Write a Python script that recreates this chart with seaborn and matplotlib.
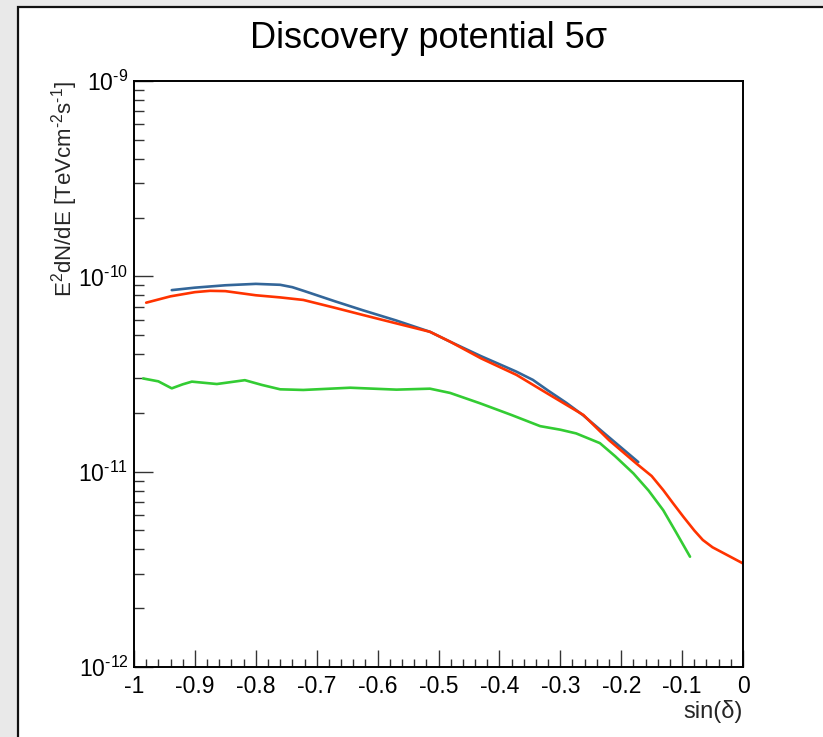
import numpy as np
import pandas as pd
import matplotlib
matplotlib.use("Agg")
import matplotlib.pyplot as plt
import matplotlib.ticker as mticker
from matplotlib.patches import Rectangle
import seaborn as sns

# ---- data ----
blue_x = [-0.938, -0.90, -0.85, -0.80, -0.76, -0.74, -0.72, -0.67, -0.624, -0.57, -0.514,
          -0.481, -0.43, -0.40, -0.372, -0.345, -0.32, -0.29, -0.263, -0.22, -0.172]
blue_y = [8.5e-11, 8.75e-11, 9.0e-11, 9.15e-11, 9.05e-11, 8.8e-11, 8.4e-11, 7.45e-11, 6.7e-11,
          5.95e-11, 5.2e-11, 4.63e-11, 3.9e-11, 3.55e-11, 3.25e-11, 2.95e-11, 2.6e-11, 2.25e-11,
          1.95e-11, 1.5e-11, 1.12e-11]

red_x = [-0.98, -0.94, -0.90, -0.875, -0.85, -0.80, -0.76, -0.722, -0.67, -0.624, -0.569,
         -0.514, -0.481, -0.43, -0.372, -0.32, -0.262, -0.22, -0.175, -0.15, -0.131, -0.115,
         -0.098, -0.08, -0.066, -0.05, -0.03, 0.0]
red_y = [7.33e-11, 7.9e-11, 8.3e-11, 8.43e-11, 8.4e-11, 8.0e-11, 7.8e-11, 7.57e-11, 6.9e-11,
         6.34e-11, 5.74e-11, 5.2e-11, 4.63e-11, 3.8e-11, 3.13e-11, 2.5e-11, 1.95e-11,
         1.45e-11, 1.10e-11, 9.5e-12, 8.05e-12, 6.9e-12, 5.88e-12, 5.0e-12, 4.47e-12,
         4.1e-12, 3.8e-12, 3.39e-12]

green_x = [-0.985, -0.96, -0.938, -0.92, -0.905, -0.864, -0.818, -0.79, -0.76, -0.722, -0.645,
           -0.569, -0.514, -0.481, -0.432, -0.38, -0.333, -0.30, -0.274, -0.235, -0.21, -0.18,
           -0.155, -0.131, -0.11, -0.087]
green_y = [3.0e-11, 2.9e-11, 2.67e-11, 2.8e-11, 2.89e-11, 2.81e-11, 2.94e-11, 2.78e-11, 2.64e-11,
           2.62e-11, 2.69e-11, 2.63e-11, 2.66e-11, 2.53e-11, 2.24e-11, 1.95e-11, 1.71e-11, 1.64e-11,
           1.57e-11, 1.40e-11, 1.2e-11, 9.8e-12, 8.0e-12, 6.35e-12, 4.9e-12, 3.67e-12]

series_names = ["blue", "red", "green"]
series_colors = ["#336699", "#ff3300", "#33cc33"]

x_ticks = [-1, -0.9, -0.8, -0.7, -0.6, -0.5, -0.4, -0.3, -0.2, -0.1, 0]
x_tick_labels = ["-1", "-0.9", "-0.8", "-0.7", "-0.6", "-0.5", "-0.4", "-0.3", "-0.2", "-0.1", "0"]
y_ticks = [1e-12, 1e-11, 1e-10, 1e-9]
y_tick_labels = [r"10$^{\text{-}12}$", r"10$^{\text{-}11}$", r"10$^{\text{-}10}$", r"10$^{\text{-}9}$"]

title = "Discovery potential 5σ"
x_label = "sin(δ)"
y_label = r"E$^{2}$dN/dE [TeVcm$^{\text{-}2}$s$^{\text{-}1}$]"

df = pd.concat([
    pd.DataFrame({"x": blue_x, "y": blue_y, "s": "blue"}),
    pd.DataFrame({"x": red_x, "y": red_y, "s": "red"}),
    pd.DataFrame({"x": green_x, "y": green_y, "s": "green"}),
], ignore_index=True)

# ---- style ----
sns.set_theme(style="white")
plt.rcParams["font.family"] = ["Liberation Sans", "DejaVu Sans"]
plt.rcParams["mathtext.fontset"] = "custom"
plt.rcParams["mathtext.rm"] = "Liberation Sans"
plt.rcParams["mathtext.it"] = "Liberation Sans"
plt.rcParams["mathtext.default"] = "regular"

W, H = 823, 737
fig = plt.figure(figsize=(W / 100, H / 100), dpi=100)
fig.patch.set_facecolor("#e9e9e9")
fig.patches.append(Rectangle((18 / W, -0.01), 1.0, 1 - 7 / H + 0.01,
                             transform=fig.transFigure, facecolor="white",
                             edgecolor="#111111", linewidth=1.6, zorder=-10))

ax = fig.add_axes([134 / W, 1 - 667 / H, (743 - 134) / W, (667 - 81) / H])
ax.set_zorder(5)
ax.set_facecolor("white")

for name, col in zip(series_names, series_colors):
    sub = df[df["s"] == name]
    sns.lineplot(data=sub, x="x", y="y", color=col, sort=False,
                 estimator=None, linewidth=1.9, ax=ax)

ax.set_yscale("log")
ax.set_xlim(-1, 0)
ax.set_ylim(1e-12, 1e-9)

ax.set_xticks(x_ticks)
ax.set_xticklabels(x_tick_labels)
ax.xaxis.set_minor_locator(mticker.MultipleLocator(0.02))
ax.set_yticks(y_ticks)
ax.set_yticklabels(y_tick_labels)
ax.yaxis.set_minor_locator(mticker.LogLocator(base=10, subs=np.arange(2, 10)))
ax.yaxis.set_minor_formatter(mticker.NullFormatter())

ax.tick_params(axis="both", which="both", direction="in", top=False, right=False,
               bottom=True, left=True,
               colors="#333333", width=1.0, labelsize=16.5, labelcolor="black")
ax.tick_params(axis="x", which="major", length=12.5, pad=6)
ax.tick_params(axis="x", which="minor", length=6)
ax.tick_params(axis="y", which="major", length=13.5, pad=4)
ax.tick_params(axis="y", which="minor", length=7.5)

for sp in ax.spines.values():
    sp.set_visible(True)
    sp.set_color("black")
    sp.set_linewidth(1.4)

ax.set_xlabel(x_label, loc="right", fontsize=17, labelpad=1)
ax.set_ylabel(y_label, loc="top", fontsize=16, labelpad=-1)

fig.text(428 / W, 1 - 38 / H, title, ha="center", va="center", fontsize=26, color="black")

fig.savefig("out.png", dpi=100, facecolor=fig.get_facecolor())
